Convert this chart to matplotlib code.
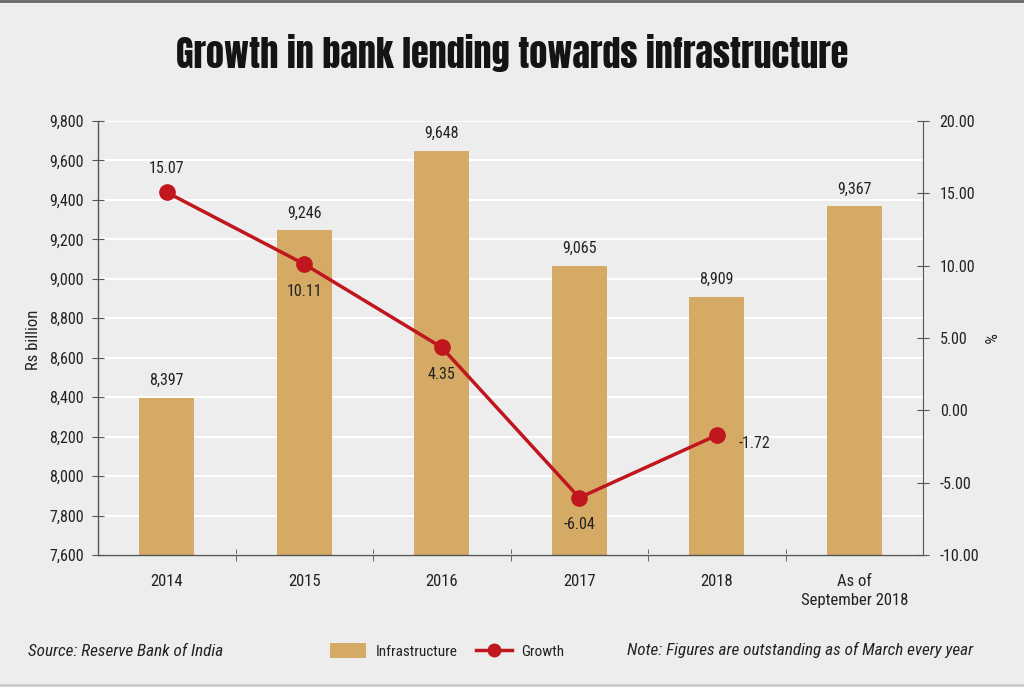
import matplotlib
matplotlib.use("Agg")
import matplotlib.pyplot as plt
from matplotlib.lines import Line2D
from matplotlib.patches import Patch
from matplotlib.ticker import FuncFormatter, FixedLocator

categories = ["2014", "2015", "2016", "2017", "2018", "As of\nSeptember 2018"]
infrastructure = [8397, 9246, 9648, 9065, 8909, 9367]
growth = [15.07, 10.11, 4.35, -6.04, -1.72]
left_ticks = [7600, 7800, 8000, 8200, 8400, 8600, 8800, 9000, 9200, 9400, 9600, 9800]
right_ticks = [-10, -5, 0, 5, 10, 15, 20]

plt.rcParams['font.family'] = ['Roboto Condensed', 'DejaVu Sans']

BG = "#ededed"
BAR = "#d4aa64"
RED = "#c0161e"
TXT = "#222222"
FS = 11.5

fig = plt.figure(figsize=(10.24, 6.87), dpi=100, facecolor=BG)
ax = fig.add_axes([98/1024, 1-555/687, 825/1024, 434/687])
ax.set_facecolor(BG)
x = list(range(len(categories)))
ax.bar(x, infrastructure, width=0.4, color=BAR, zorder=2)
ax.set_ylim(7600, 9800)
ax.set_xlim(-0.5, len(categories) - 0.5)
ax.yaxis.set_major_locator(FixedLocator(left_ticks))
ax.yaxis.set_major_formatter(FuncFormatter(lambda v, p: f"{int(v):,}"))
ax.grid(axis='y', color='white', linewidth=1.5, zorder=0)
ax.set_axisbelow(True)
for s in ['top', 'right']:
    ax.spines[s].set_visible(False)
for s in ['left', 'bottom']:
    ax.spines[s].set_color('#555555')
    ax.spines[s].set_linewidth(1.0)
ax.set_xticks(x)
ax.set_xticklabels(categories, fontsize=12, color=TXT, linespacing=1.3)
ax.tick_params(axis='x', length=0, pad=14)
ax.set_xticks([i + 0.5 for i in x[:-1]], minor=True)
ax.tick_params(axis='x', which='minor', direction='inout', length=8, color='#555555')
ax.tick_params(axis='y', direction='inout', length=8, color='#555555', labelsize=FS,
               labelcolor=TXT, pad=6)
fig.text(33/1024, 1-340/687, "Rs billion", rotation=90, ha='center', va='center',
         fontsize=12, color=TXT)

for xi, v in zip(x, infrastructure):
    ax.annotate(f"{v:,}", (xi, v), xytext=(0, 7), textcoords='offset points',
                ha='center', va='bottom', fontsize=FS, color=TXT)

ax2 = ax.twinx()
ax2.set_ylim(-10, 20)
ax2.yaxis.set_major_locator(FixedLocator(right_ticks))
ax2.yaxis.set_major_formatter(FuncFormatter(lambda v, p: f"{v:.2f}"))
for s in ['top', 'left', 'bottom']:
    ax2.spines[s].set_visible(False)
ax2.spines['right'].set_color('#555555')
ax2.tick_params(axis='y', direction='inout', length=8, color='#555555', labelsize=FS,
                labelcolor=TXT, pad=8)
fig.text(988/1024, 1-338/687, "%", rotation=270, ha='center', va='center',
         fontsize=12, color=TXT)
gx = x[:len(growth)]
ax2.plot(gx, growth, color=RED, linewidth=2.5, marker='o', markersize=11, zorder=3)
offsets = [(0, 12, 'center', 'bottom'), (0, -14, 'center', 'top'), (0, -14, 'center', 'top'),
           (0, -14, 'center', 'top'), (16, -6, 'left', 'center')]
for xi, v, (dx, dy, ha, va) in zip(gx, growth, offsets):
    ax2.annotate(f"{v:.2f}", (xi, v), xytext=(dx, dy), textcoords='offset points',
                 ha=ha, va=va, fontsize=FS, color=TXT)

fig.text(512/1024, 1-53/687, "Growth in bank lending towards infrastructure", ha='center', va='center',
         fontsize=26, color='#141414', family=['Anton', 'DejaVu Sans'])

fig.text(28/1024, 1-651/687, "Source: Reserve Bank of India", ha='left', va='center',
         fontsize=12.3, style='italic', color=TXT)
fig.text(973/1024, 1-650/687, "Note: Figures are outstanding as of March every year", ha='right',
         va='center', fontsize=12.3, style='italic', color=TXT)
handles = [Patch(facecolor=BAR, edgecolor='none'),
           Line2D([0], [0], color=RED, linewidth=2.5, marker='o', markersize=9)]
fig.legend(handles, ["Infrastructure", "Growth"], loc='center', bbox_to_anchor=(447/1024, 1-651/687),
           ncol=2, frameon=False, fontsize=11, handlelength=2.4, handleheight=1.1, columnspacing=1.2,
           handletextpad=0.6, labelcolor=TXT)

fig.add_artist(Line2D([0, 1], [1-1/687, 1-1/687], color='#666666', linewidth=2, transform=fig.transFigure))
fig.add_artist(Line2D([0, 1], [2/687, 2/687], color='#cccccc', linewidth=2, transform=fig.transFigure))

fig.savefig("out.png", dpi=100, facecolor=BG)
